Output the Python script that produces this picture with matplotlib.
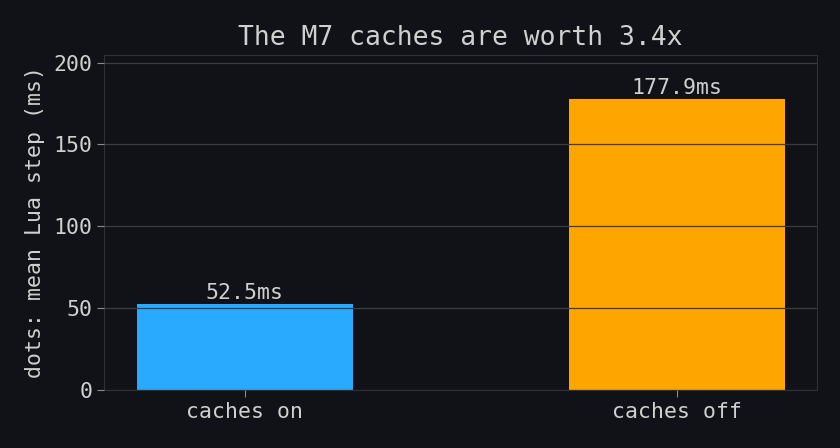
import matplotlib
matplotlib.use('Agg')
import matplotlib.pyplot as plt

labels = ['caches on', 'caches off']
values = [52.5, 177.9]
colors = ['#29aaff', '#ffa500']
yticks = [0, 50, 100, 150, 200]
title = 'The M7 caches are worth 3.4x'
ylabel = 'dots: mean Lua step (ms)'

bg = '#111217'
fg = '#d0d0d0'
grid_c = '#3a3c42'

plt.rcParams['font.family'] = 'DejaVu Sans Mono'

fig, ax = plt.subplots(figsize=(8.4, 4.48), dpi=100)
fig.patch.set_facecolor(bg)
ax.set_facecolor(bg)

bars = ax.bar(labels, values, width=0.5, color=colors, zorder=1)
ax.set_ylim(0, max(values) * 1.15)
ax.set_yticks(yticks)
ax.yaxis.grid(True, color=grid_c, linewidth=0.9, zorder=2)
ax.set_axisbelow(False)

for b, v in zip(bars, values):
    ax.text(b.get_x() + b.get_width() / 2, v + 0.5, f'{v}ms', ha='center', va='bottom',
            color=fg, fontsize=15.5)

ax.set_title(title, color=fg, fontsize=19, pad=7)
ax.set_ylabel(ylabel, color=fg, fontsize=15.5, labelpad=6)
ax.tick_params(colors=fg, labelsize=15.5, length=5)
ax.tick_params(axis='both', color='#8a8c90')
for s in ax.spines.values():
    s.set_color('#2e3036')

fig.subplots_adjust(left=0.124, right=0.973, top=0.877, bottom=0.13)
fig.savefig('out.png', facecolor=bg)
